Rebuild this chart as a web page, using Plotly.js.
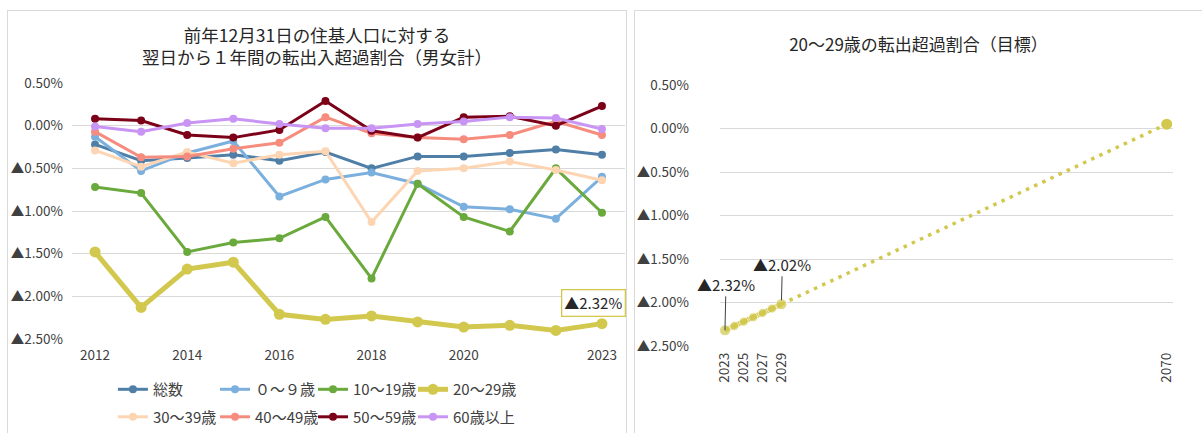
<!DOCTYPE html>
<html>
<head>
<meta charset="utf-8">
<script src="https://cdn.plot.ly/plotly-3.0.1.min.js"></script>
<style>
  html, body { margin: 0; padding: 0; background: #ffffff; width: 1202px; height: 433px; overflow: hidden; }
  .panel { position: absolute; box-sizing: border-box; border: 1px solid #d9d9d9; border-bottom: none; background: #fff; }
  #leftPanel { left: 7px; top: 10px; width: 620px; height: 423px; }
  #rightPanel { left: 634px; top: 10px; width: 575px; height: 423px; }
  #left { position: absolute; left: 0; top: 0; width: 618px; height: 422px; }
  #right { position: absolute; left: 0; top: 0; width: 567px; height: 422px; }
</style>
</head>
<body>
<div class="panel" id="leftPanel"><div id="left"></div></div>
<div class="panel" id="rightPanel"><div id="right"></div></div>
<script>
// ---- Left chart data (percent) ----
const years = [2012, 2013, 2014, 2015, 2016, 2017, 2018, 2019, 2020, 2021, 2022, 2023];
const seriesNames = ['総数', '０～９歳', '10～19歳', '20～29歳', '30～39歳', '40～49歳', '50～59歳', '60歳以上'];
const total      = [-0.22, -0.41, -0.38, -0.34, -0.41, -0.31, -0.50, -0.36, -0.36, -0.32, -0.28, -0.34];
const age0to9    = [-0.13, -0.53, -0.32, -0.18, -0.83, -0.63, -0.55, -0.68, -0.95, -0.98, -1.09, -0.60];
const age10to19  = [-0.72, -0.79, -1.48, -1.37, -1.32, -1.07, -1.79, -0.68, -1.07, -1.24, -0.50, -1.02];
const age20to29  = [-1.48, -2.13, -1.68, -1.60, -2.21, -2.27, -2.23, -2.30, -2.36, -2.34, -2.40, -2.32];
const age30to39  = [-0.29, -0.48, -0.31, -0.44, -0.34, -0.30, -1.13, -0.53, -0.50, -0.42, -0.52, -0.64];
const age40to49  = [-0.07, -0.37, -0.36, -0.27, -0.20, 0.10, -0.09, -0.14, -0.16, -0.11, 0.05, -0.11];
const age50to59  = [0.08, 0.06, -0.11, -0.14, -0.05, 0.29, -0.06, -0.14, 0.10, 0.11, 0.00, 0.23];
const age60plus  = [-0.01, -0.07, 0.03, 0.08, 0.02, -0.03, -0.03, 0.02, 0.05, 0.10, 0.09, -0.04];
const seriesColors = ['#4f7fa7', '#7bb0de', '#6aa93c', '#d2c84e', '#fdd5b3', '#f68c7e', '#7b0018', '#c995f5'];
const leftXTicks = [2012, 2014, 2016, 2018, 2020, 2023];
const yTickVals = [0.5, 0, -0.5, -1.0, -1.5, -2.0, -2.5];
const yTickText = ['0.50%', '0.00%', '▲0.50%', '▲1.00%', '▲1.50%', '▲2.00%', '▲2.50%'];
const leftLabel = '▲2.32%';

// ---- Right chart data (percent) ----
const targetYears = [2023, 2024, 2025, 2026, 2027, 2028, 2029];
const targetValues = [-2.32, -2.27, -2.22, -2.17, -2.12, -2.07, -2.02];
const goalYears = [2029, 2070];
const goalValues = [-2.02, 0.05];
const rightXTicks = [2023, 2025, 2027, 2029, 2070];
const rightLabels = ['▲2.32%', '▲2.02%'];

const cjk = "'Noto Sans CJK JP','Noto Sans',sans-serif";
const tickFont = { family: cjk, size: 13.5, color: '#404040' };
const titleFontL = { family: cjk, size: 17.5, color: '#262626' };
const titleFontR = { family: cjk, size: 17, color: '#262626' };
const legendFont = { family: cjk, size: 15, color: '#404040' };
const labelFont = { family: cjk, size: 15, color: '#262626' };

const legendIds = ['legend', 'legend2', 'legend3', 'legend4'];
const allSeries = [total, age0to9, age10to19, age20to29, age30to39, age40to49, age50to59, age60plus];
const leftTraces = allSeries.map((vals, i) => {
  const thick = (i === 3);
  return {
    type: 'scatter', mode: 'lines+markers', x: years, y: vals, name: seriesNames[i],
    line: { color: seriesColors[i], width: thick ? 5 : 3 },
    marker: { color: seriesColors[i], size: thick ? 11 : 8 },
    legend: legendIds[i % 4], legendgroup: 'g' + i,
    hoverinfo: 'x+y+name'
  };
});

// legend columns (paper x of each column's left edge)
const legendCols = [0.074, 0.2586, 0.4358, 0.6166];
const legendBase = { orientation: 'v', xanchor: 'left', y: -0.133, yanchor: 'top', font: legendFont, itemwidth: 30, tracegroupgap: 5, bgcolor: 'rgba(0,0,0,0)' };

const leftLayout = {
  width: 618, height: 422,
  margin: { l: 64, r: 1, t: 72, b: 94, autoexpand: false },
  paper_bgcolor: '#ffffff', plot_bgcolor: '#ffffff',
  title: { text: '前年12月31日の住基人口に対する<br>翌日から１年間の転出入超過割合（男女計）', font: titleFontL, x: 0.5, xref: 'container', y: 1 - 30.5 / 422, yref: 'container', yanchor: 'middle' },
  xaxis: { range: [2011.5, 2023.5], tickvals: leftXTicks, ticktext: leftXTicks.map(String), tickfont: tickFont, showgrid: false, zeroline: false, showline: false, ticks: '', ticklabelstandoff: 6, fixedrange: true },
  yaxis: { range: [-2.5, 0.5], tickvals: yTickVals, ticktext: yTickText, tickfont: tickFont, showgrid: true, gridcolor: '#d9d9d9', gridwidth: 1, zeroline: false, showline: false, ticks: '', ticklabelstandoff: 8, fixedrange: true },
  showlegend: true,
  legend:  Object.assign({}, legendBase, { x: legendCols[0] }),
  legend2: Object.assign({}, legendBase, { x: legendCols[1] }),
  legend3: Object.assign({}, legendBase, { x: legendCols[2] }),
  legend4: Object.assign({}, legendBase, { x: legendCols[3] }),
  annotations: [{
    x: years[years.length - 1], y: age20to29[age20to29.length - 1], xref: 'x', yref: 'y',
    text: leftLabel, showarrow: false, xshift: -8, yshift: 21,
    font: labelFont,
    bgcolor: '#ffffff', bordercolor: '#d2c84e', borderwidth: 1.3, borderpad: 2
  }]
};

Plotly.newPlot('left', leftTraces, leftLayout, { displayModeBar: false, staticPlot: true });

// ---- Right chart ----
const goldColor = '#d2c84e';
const rightTraces = [
  {
    type: 'scatter', mode: 'lines', x: goalYears, y: goalValues,
    line: { color: goldColor, width: 3.5, dash: '3.5px,5.5px' }, showlegend: false
  },
  {
    type: 'scatter', mode: 'markers', x: goalYears.slice(1), y: goalValues.slice(1),
    marker: { color: goldColor, size: 11 }, showlegend: false
  },
  {
    type: 'scatter', mode: 'lines+markers', x: targetYears, y: targetValues,
    line: { color: goldColor, width: 5 },
    marker: { color: goldColor, size: targetYears.map((v, i) => (i === 0 || i === targetYears.length - 1) ? 11 : 9) },
    showlegend: false
  }
];

const rightLayout = {
  width: 567, height: 422,
  margin: { l: 85, r: 29, t: 74, b: 87, autoexpand: false },
  paper_bgcolor: '#ffffff', plot_bgcolor: '#ffffff',
  title: { text: '20～29歳の転出超過割合（目標）', font: titleFontR, x: 0.5, xref: 'container', y: 1 - 34 / 422, yref: 'container', yanchor: 'middle' },
  xaxis: { range: [2022.47, 2070.67], tickvals: rightXTicks, ticktext: rightXTicks.map(String), tickangle: -90, tickfont: tickFont, showgrid: false, zeroline: false, showline: false, ticks: '', ticklabelstandoff: 3, fixedrange: true },
  yaxis: { range: [-2.5, 0.5], tickvals: yTickVals, ticktext: yTickText, tickfont: tickFont, showgrid: true, gridcolor: '#d9d9d9', gridwidth: 1, zeroline: false, showline: false, ticks: '', ticklabelstandoff: 30, fixedrange: true },
  showlegend: false,
  annotations: [
    {
      x: targetYears[0], y: targetValues[0], xref: 'x', yref: 'y', text: rightLabels[0],
      showarrow: true, arrowhead: 0, arrowwidth: 1, arrowcolor: '#404040', ax: 1, ay: -46, standoff: 0,
      font: labelFont
    },
    {
      x: targetYears[targetYears.length - 1], y: targetValues[targetValues.length - 1], xref: 'x', yref: 'y', text: rightLabels[1],
      showarrow: true, arrowhead: 0, arrowwidth: 1, arrowcolor: '#404040', ax: 1, ay: -40, standoff: 4,
      font: labelFont
    }
  ]
};

Plotly.newPlot('right', rightTraces, rightLayout, { displayModeBar: false, staticPlot: true });
</script>
</body>
</html>
